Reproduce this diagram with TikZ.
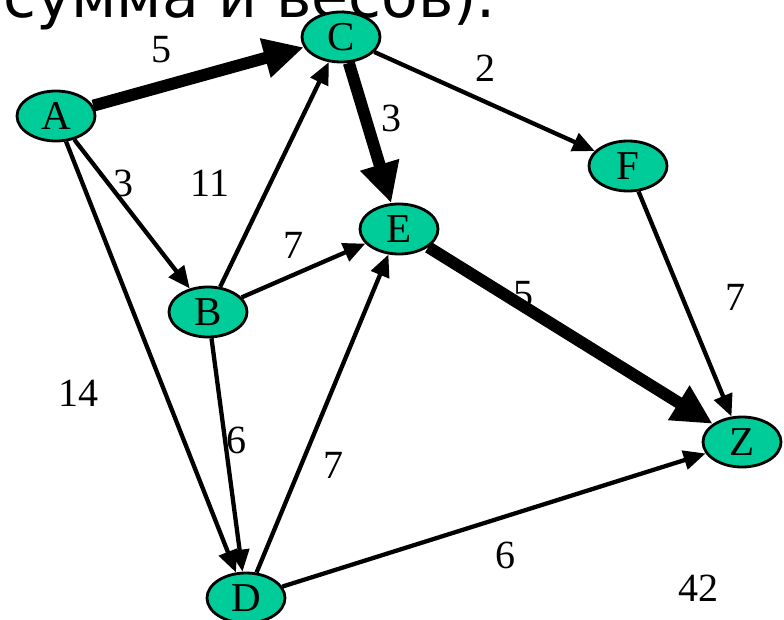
\documentclass[tikz,border=0pt]{standalone}
\usepackage{fontspec}
\setmainfont{Liberation Serif}
\newfontfamily\topfont{DejaVu Sans}
\usetikzlibrary{shapes.geometric,arrows.meta}
\definecolor{nodegreen}{HTML}{00CC99}
\tikzset{
  vert/.style={ellipse,draw=black,line width=2.8pt,fill=nodegreen,minimum width=78pt,minimum height=50pt,inner sep=0pt,font=\fontsize{41}{41}\selectfont},
  edgeline/.style={line width=4.3pt,-{Triangle[length=22pt,width=19pt]}},
  heavy/.style={line width=12pt,-{Triangle[length=40pt,width=38pt]}},
  wlabel/.style={inner sep=0pt,font=\fontsize{40}{40}\selectfont}
}
\begin{document}
\begin{tikzpicture}[x=1pt,y=-1pt]
\useasboundingbox (0,0) rectangle (784,620);
\clip (0,0) rectangle (784,620);
\node[anchor=base west,inner sep=0pt,font=\topfont\fontsize{60}{60}\selectfont] (title) at (3,18) {сумма и весов).};
\node[vert] (A) at (56,116) {A};
\node[vert] (C) at (341,37) {C};
\node[vert] (B) at (208,312) {B};
\node[vert] (E) at (399,229) {E};
\node[vert] (F) at (628,166) {F};
\node[vert] (D) at (246,598) {D};
\node[vert] (Z) at (742,442) {Z};
\draw[heavy] (A) -- (C);
\draw[heavy] (C) -- (E);
\draw[heavy] (E) -- (Z);
\draw[edgeline] (C) -- (F);
\draw[edgeline] (A) -- (B);
\draw[edgeline] (A) -- (D);
\draw[edgeline] (B) -- (C);
\draw[edgeline] (B) -- (E);
\draw[edgeline] (B) -- (D);
\draw[edgeline] (D) -- (E);
\draw[edgeline] (D) -- (Z);
\draw[edgeline] (F) -- (Z);
\node[wlabel] (lAC) at (161,50) {5};
\node[wlabel] (lCF) at (485,68) {2};
\node[wlabel] (lCE) at (391,118) {3};
\node[wlabel] (lAB) at (123,183) {3};
\node[wlabel] (lBC) at (210,183) {11};
\node[wlabel] (lBE) at (293,245) {7};
\node[wlabel] (lEZ) at (523,295) {5};
\node[wlabel] (lFZ) at (735,297) {7};
\node[wlabel] (lAD) at (78,393) {14};
\node[wlabel] (lBD) at (236,440) {6};
\node[wlabel] (lDE) at (333,465) {7};
\node[wlabel] (lDZ) at (505,555) {6};
\node[wlabel] (l42) at (698,588) {42};
\end{tikzpicture}
\end{document}
